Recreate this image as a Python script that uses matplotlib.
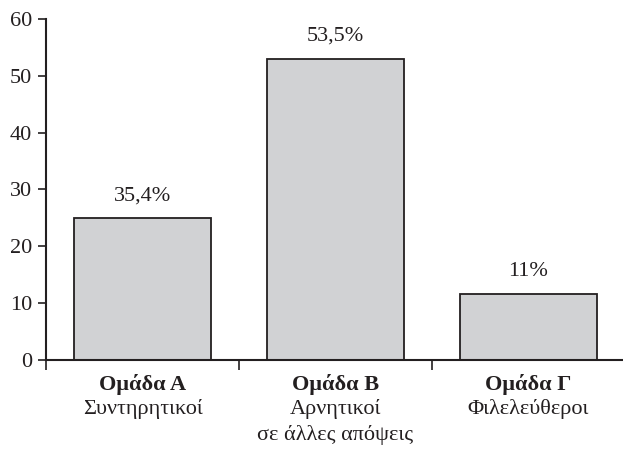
import matplotlib
matplotlib.use("Agg")
import matplotlib.pyplot as plt
import matplotlib.transforms as mtransforms

# data
groups = ["Ομάδα Α", "Ομάδα Β", "Ομάδα Γ"]
subtitles = ["Συντηρητικοί", "Αρνητικοί\nσε άλλες απόψεις", "Φιλελεύθεροι"]
heights = [25, 53, 11.6]
value_labels = ["35,4%", "53,5%", "11%"]
y_ticks = [0, 10, 20, 30, 40, 50, 60]

ink = "#231f20"
plt.rcParams['font.family'] = ['Liberation Serif', 'DejaVu Serif']

fig = plt.figure(figsize=(6.23, 4.5), dpi=100)
ax = fig.add_axes([0.074, 0.2, 0.926, 0.758])

x = list(range(len(groups)))
ax.bar(x, heights, width=0.71, color="#d1d2d4", edgecolor=ink, linewidth=1.3, zorder=2)

for xi, h, lab in zip(x, heights, value_labels):
    ax.annotate(lab, (xi, h), xytext=(0, 16), textcoords="offset points",
                ha="center", va="center", fontsize=16, color=ink)

ax.set_xlim(-0.5, 2.49)
ax.set_ylim(0, 60)
ax.set_yticks(y_ticks)
ax.tick_params(axis="y", direction="out", length=6, width=1.2, colors=ink,
               labelsize=16, pad=4)
ax.set_xticks([])
ax.set_xticks([-0.5, 0.5, 1.5], minor=True)
ax.tick_params(axis="x", which="minor", direction="out", length=7.5, width=1.2,
               colors=ink, labelbottom=False)

for side in ["top", "right"]:
    ax.spines[side].set_visible(False)
for side in ["left", "bottom"]:
    ax.spines[side].set_linewidth(1.5)
    ax.spines[side].set_color(ink)

trans = mtransforms.blended_transform_factory(ax.transData, ax.transAxes)
for xi, g, s in zip(x, groups, subtitles):
    ax.text(xi, -0.073, g, transform=trans, ha="center", va="center",
            fontsize=16, fontweight="bold", color=ink)
    ax.text(xi, -0.114, s, transform=trans, ha="center", va="top",
            fontsize=16, color=ink, linespacing=1.4)

fig.savefig("out.png", dpi=100)
